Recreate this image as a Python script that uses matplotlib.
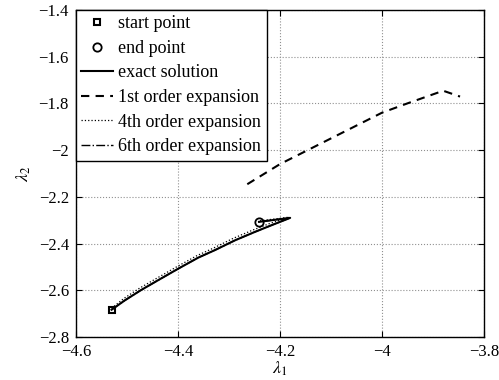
import numpy as np
import matplotlib.pyplot as plt

plt.rcParams['font.family'] = ['Liberation Serif', 'DejaVu Serif']
plt.rcParams['mathtext.fontset'] = 'stix'

# trajectories in the (lambda_1, lambda_2) plane
exact_l1 = [-4.530, -4.504, -4.473, -4.439, -4.399, -4.360, -4.3275, -4.288, -4.249,
            -4.216, -4.180, -4.241]
exact_l2 = [-2.683, -2.643, -2.600, -2.557, -2.507, -2.460, -2.428, -2.386, -2.350,
            -2.321, -2.290, -2.307]

order1_l1 = [-4.264, -4.200, -4.100, -4.000, -3.950, -3.880, -3.847]
order1_l2 = [-2.146, -2.060, -1.950, -1.840, -1.800, -1.746, -1.771]

order4_l1 = [-4.530, -4.506, -4.476, -4.442, -4.402, -4.363, -4.331, -4.292, -4.253,
             -4.220, -4.182, -4.241]
order4_l2 = [-2.677, -2.635, -2.592, -2.549, -2.499, -2.452, -2.420, -2.378, -2.342,
             -2.314, -2.287, -2.303]

order6_l1 = [-4.530, -4.504, -4.473, -4.439, -4.399, -4.360, -4.3275, -4.288, -4.249,
             -4.216, -4.180, -4.241]
order6_l2 = [-2.683, -2.643, -2.600, -2.557, -2.507, -2.460, -2.428, -2.386, -2.350,
             -2.321, -2.290, -2.307]

start = (-4.530, -2.683)
end = (-4.241, -2.307)

fig = plt.figure(figsize=(4.99, 3.80), dpi=100)
ax = fig.add_axes([0.152, 0.113, 0.818, 0.861])

ax.plot(start[0], start[1], 's', mfc='none', mec='k', mew=1.5, ms=5, ls='none', label='start point')
ax.plot(end[0], end[1], 'o', mfc='none', mec='k', mew=1.3, ms=6, ls='none', label='end point')
ax.plot(exact_l1, exact_l2, '-', color='k', lw=1.5, label='exact solution')
ax.plot(order1_l1, order1_l2, '--', color='k', lw=1.5, dashes=(4, 3), label='1st order expansion')
ax.plot(order4_l1, order4_l2, ':', color='k', lw=0.9, label='4th order expansion')
ax.plot(order6_l1, order6_l2, '-.', color='k', lw=1.0, label='6th order expansion')

ax.set_xlim(-4.6, -3.8)
ax.set_ylim(-2.8, -1.4)
ax.set_xticks(np.arange(-4.6, -3.79, 0.2))
ax.set_yticks(np.arange(-2.8, -1.39, 0.2))
ax.set_xticklabels(['\u22124.6', '\u22124.4', '\u22124.2', '\u22124', '\u22123.8'])
ax.set_yticklabels(['\u22122.8', '\u22122.6', '\u22122.4', '\u22122.2', '\u22122',
                    '\u22121.8', '\u22121.6', '\u22121.4'])
ax.tick_params(direction='in', top=True, right=True, labelsize=12, length=4, width=0.8, pad=5)
ax.grid(True, color='#909090', ls=':', lw=0.8)
for s in ax.spines.values():
    s.set_linewidth(1.0)

ax.set_xlabel(r'$\lambda_1$', fontsize=13, labelpad=0)
ax.set_ylabel(r'$\lambda_2$', fontsize=13, labelpad=4)

leg = ax.legend(loc='upper left', bbox_to_anchor=(0, 1), borderaxespad=0.0, fontsize=13,
                handlelength=1.75, handletextpad=0.3, labelspacing=0.42, borderpad=0.3,
                fancybox=False, framealpha=1, edgecolor='k')
leg.get_frame().set_linewidth(1.0)

fig.savefig('out.png', dpi=100)
